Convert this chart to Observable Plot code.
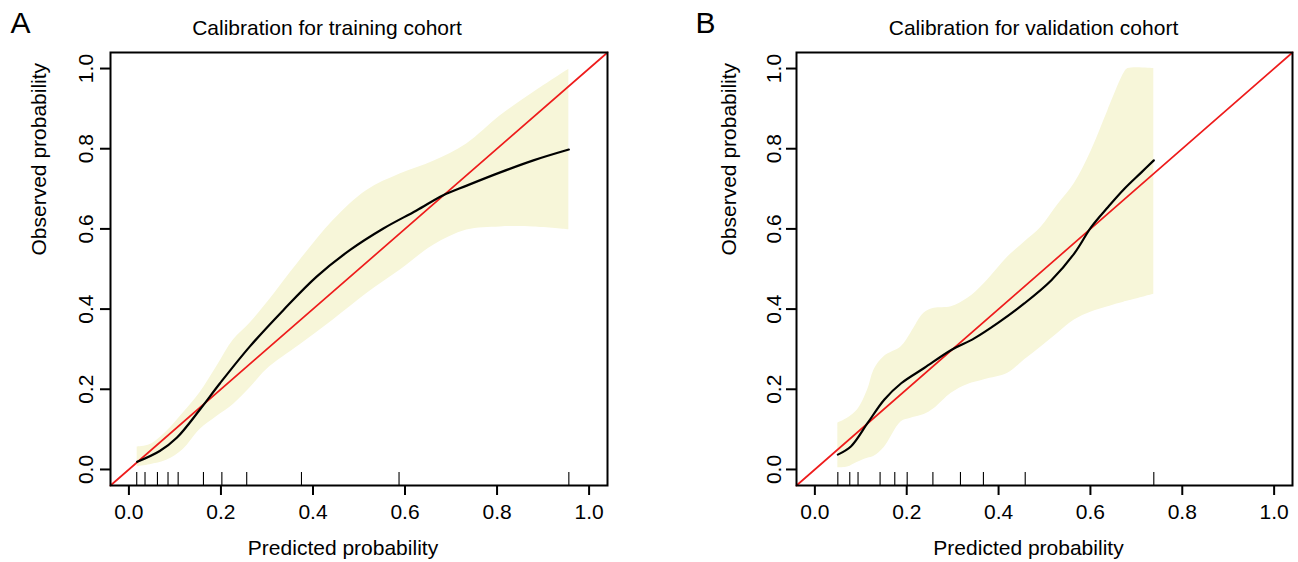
<!DOCTYPE html>
<html><head><meta charset="utf-8">
<script src="https://cdn.jsdelivr.net/npm/d3@7"></script>
<script src="https://cdn.jsdelivr.net/npm/@observablehq/plot@0.6"></script>
<style>
html,body{margin:0;padding:0;background:#fff;}
#wrap{display:flex;width:1298px;height:562px;overflow:hidden;}
#wrap svg{flex:none;}
</style></head><body><div id="wrap"></div>
<script>
// ---------- data ----------
const xTicks = [0, 0.2, 0.4, 0.6, 0.8, 1.0];
const yTicks = [0, 0.2, 0.4, 0.6, 0.8, 1.0];
const limits = [-0.04, 1.04];

const panelLetters = ["A", "B"];
const panelTitles = ["Calibration for training cohort", "Calibration for validation cohort"];
const xLabel = "Predicted probability";
const yLabel = "Observed probability";

// Training cohort
const trainRug = [0.017, 0.035, 0.062, 0.085, 0.107, 0.162, 0.202, 0.256, 0.375, 0.587, 0.956];
const trainCurveX = [0.018, 0.067, 0.104, 0.154, 0.198, 0.263, 0.336, 0.408, 0.480, 0.553, 0.625, 0.683, 0.734, 0.807, 0.879, 0.956];
const trainCurveY = [0.019, 0.046, 0.079, 0.149, 0.215, 0.307, 0.398, 0.481, 0.547, 0.601, 0.646, 0.684, 0.708, 0.741, 0.771, 0.798];
const trainBandX  = [0.018, 0.046, 0.082, 0.118, 0.154, 0.191, 0.227, 0.263, 0.299, 0.372, 0.444, 0.517, 0.589, 0.662, 0.734, 0.807, 0.879, 0.956];
const trainBandHi = [0.056, 0.062, 0.095, 0.141, 0.191, 0.257, 0.323, 0.365, 0.414, 0.522, 0.621, 0.696, 0.737, 0.769, 0.812, 0.882, 0.940, 0.998];
const trainBandLo = [0.007, 0.012, 0.023, 0.050, 0.099, 0.132, 0.162, 0.203, 0.249, 0.311, 0.373, 0.439, 0.497, 0.559, 0.597, 0.605, 0.605, 0.598];

// Validation cohort
const validRug = [0.050, 0.076, 0.094, 0.142, 0.174, 0.201, 0.257, 0.317, 0.367, 0.458, 0.738];
const validCurveX = [0.050, 0.079, 0.115, 0.151, 0.188, 0.238, 0.297, 0.347, 0.398, 0.456, 0.515, 0.565, 0.602, 0.638, 0.674, 0.711, 0.738];
const validCurveY = [0.037, 0.058, 0.116, 0.174, 0.215, 0.253, 0.298, 0.327, 0.365, 0.414, 0.472, 0.539, 0.605, 0.654, 0.700, 0.741, 0.771];
const validBandX  = [0.050, 0.071, 0.093, 0.115, 0.129, 0.151, 0.188, 0.209, 0.238, 0.260, 0.297, 0.333, 0.369, 0.420, 0.456, 0.493, 0.529, 0.565, 0.602, 0.638, 0.674, 0.682, 0.738];
const validBandHi = [0.116, 0.128, 0.149, 0.199, 0.249, 0.282, 0.306, 0.340, 0.390, 0.402, 0.406, 0.427, 0.464, 0.530, 0.567, 0.605, 0.660, 0.713, 0.795, 0.895, 0.990, 1.000, 1.000];
const validBandLo = [0.004, 0.006, 0.018, 0.028, 0.033, 0.055, 0.119, 0.128, 0.137, 0.152, 0.190, 0.212, 0.224, 0.240, 0.273, 0.306, 0.340, 0.373, 0.393, 0.406, 0.418, 0.420, 0.437];

// ---------- drawing ----------
const FONT = "'Liberation Sans', Arial, Helvetica, sans-serif";
const fmt = d3.format(".1f");
const bandColor = "#f7f6d9";
const W = 649, H = 562, MT = 52, MB = 77;

function panel(i, cfg) {
  const curve = cfg.curveX.map((x, k) => ({x, y: cfg.curveY[k]}));
  const band = cfg.bandX.map((x, k) => ({x, lo: cfg.bandLo[k], hi: cfg.bandHi[k]}));
  const frameH = H - MT - MB;
  return Plot.plot({
    width: W, height: H,
    marginTop: MT, marginBottom: MB, marginLeft: cfg.ml, marginRight: cfg.mr,
    style: {fontFamily: FONT, fontSize: "21px", color: "black", background: "white", overflow: "visible"},
    x: {domain: limits},
    y: {domain: limits},
    marks: [
      Plot.areaY(band, {x: "x", y1: "lo", y2: "hi", fill: bandColor, curve: "catmull-rom"}),
      Plot.line(limits, {x: d => d, y: d => d, stroke: "#ee1c1c", strokeWidth: 1.7}),
      Plot.line(curve, {x: "x", y: "y", stroke: "black", strokeWidth: 2.2, curve: "catmull-rom"}),
      Plot.ruleX(cfg.rug, {x: d => d, insetTop: frameH - 13, stroke: "black", strokeWidth: 1.1}),
      Plot.frame({stroke: "black", strokeWidth: 2}),
      Plot.axisX(xTicks, {tickSize: 10, tickPadding: 9, tickFormat: fmt, strokeWidth: 2, fontSize: 21, label: null}),
      Plot.axisY(yTicks, {tickSize: 10, tickPadding: cfg.yPad, tickRotate: -90, tickFormat: fmt, strokeWidth: 2, fontSize: 21, label: null}),
      Plot.text([panelTitles[i]], {text: d => d, frameAnchor: "top", dx: cfg.titleDx, dy: -17.3, lineAnchor: "bottom", fontSize: 21}),
      Plot.text([panelLetters[i]], {text: d => d, frameAnchor: "top-left", textAnchor: "start", dx: cfg.letterDx, dy: -19.3, lineAnchor: "bottom", fontSize: 30}),
      Plot.text([xLabel], {text: d => d, frameAnchor: "bottom", dx: -16, dy: 69, lineAnchor: "bottom", fontSize: 21}),
      Plot.text([yLabel], {text: d => d, frameAnchor: "left", rotate: -90, dx: cfg.yLabDx, dy: -13.5, lineAnchor: "bottom", fontSize: 21})
    ]
  });
}

const wrap = document.getElementById("wrap");
wrap.appendChild(panel(0, {
  ml: 110, mr: 42, yPad: 8, titleDx: -32, letterDx: -100, yLabDx: -65,
  rug: trainRug, curveX: trainCurveX, curveY: trainCurveY,
  bandX: trainBandX, bandLo: trainBandLo, bandHi: trainBandHi
}));
wrap.appendChild(panel(1, {
  ml: 147, mr: 6, yPad: 6, titleDx: -11, letterDx: -101, yLabDx: -61,
  rug: validRug, curveX: validCurveX, curveY: validCurveY,
  bandX: validBandX, bandLo: validBandLo, bandHi: validBandHi
}));
</script></body></html>
